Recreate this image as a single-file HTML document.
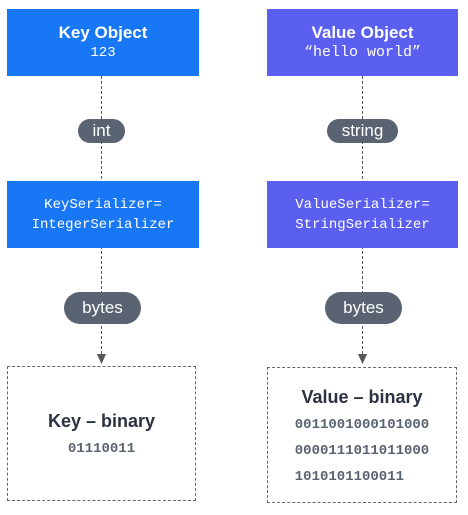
<!DOCTYPE html>
<html><head><style>
body{margin:0;width:468px;height:515px;background:#fff;position:relative;overflow:hidden;font-family:"Liberation Sans",sans-serif}
.b{position:absolute;color:#fff;text-align:center;display:flex;flex-direction:column;justify-content:center;align-items:center}
.t{font-weight:bold;font-size:17px}
.m{font-family:"Liberation Mono",monospace;font-size:14px;line-height:20px}
.p{position:absolute;background:#5a6371;color:#fff;border-radius:16px;font-size:17px;display:flex;align-items:center;justify-content:center}
.v{position:absolute;border-left:1.5px dashed #555;width:0}
.d{position:absolute;border:1.5px dashed #666;display:flex;flex-direction:column;align-items:center;justify-content:center;color:#2a3140}
.bin{font-family:"Liberation Mono",monospace;font-weight:bold;color:#5a6371;font-size:14px;line-height:26px}
</style></head><body>
<div class="v" style="left:101px;top:76px;height:278px"></div>
<div class="v" style="left:362px;top:76px;height:278px"></div>
<svg style="position:absolute;left:0;top:0" width="468" height="515"><polygon points="97,354 106,354 101.5,364" fill="#555"/><polygon points="358,354 367,354 362.5,364" fill="#555"/></svg>
<div class="b" style="left:7px;top:9px;width:192px;height:67px;background:#1877f5"><div class="t">Key Object</div><div class="m" style="font-size:14px">123</div></div>
<div class="b" style="left:267px;top:9px;width:191px;height:67px;background:#5b5ff0"><div class="t">Value Object</div><div class="m" style="font-size:15px">“hello world”</div></div>
<div class="p" style="left:78px;top:119px;width:47px;height:24px">int</div>
<div class="p" style="left:327px;top:119px;width:71px;height:24px">string</div>
<div class="b" style="left:7px;top:181px;width:192px;height:67px;background:#1877f5"><div class="m">KeySerializer=<br>IntegerSerializer</div></div>
<div class="b" style="left:267px;top:181px;width:191px;height:67px;background:#5b5ff0"><div class="m">ValueSerializer=<br>StringSerializer</div></div>
<div class="p" style="left:64px;top:292px;width:77px;height:32px">bytes</div>
<div class="p" style="left:325px;top:292px;width:77px;height:32px">bytes</div>
<div class="d" style="left:7px;top:366px;width:189px;height:133px;padding-top:6px;box-sizing:border-box;height:135px"><div class="t" style="font-size:18px;margin-bottom:4px">Key – binary</div><div class="bin">01110011</div></div>
<div class="d" style="left:267px;top:367px;width:190px;height:134px;padding-top:6px;box-sizing:border-box;height:136px"><div class="t" style="font-size:18px;margin-bottom:4px">Value – binary</div><div class="bin">0011001000101000<br>0000111011011000<br>1010101100011</div></div>
</body></html>
